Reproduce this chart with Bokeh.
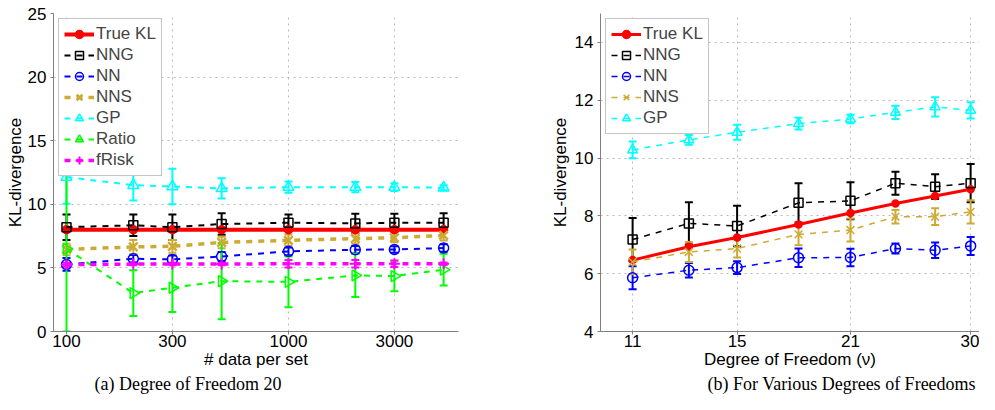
import numpy as np
from bokeh.plotting import figure
from bokeh.models import (ColumnDataSource, Whisker, Legend, LegendItem, FixedTicker,
                          PrintfTickFormatter, Range1d, Title, TeeHead)
from bokeh.layouts import row
from bokeh.embed import file_html
from bokeh.resources import INLINE

# ---------------- data: panel (a) ----------------
n_data = [100, 200, 300, 500, 1000, 2000, 3000, 5000]
true_kl_a = [8.0, 8.0, 8.0, 8.0, 8.0, 8.0, 8.0, 8.0]
nng_a = [8.2, 8.35, 8.2, 8.45, 8.55, 8.5, 8.55, 8.55]
nng_a_err = [1.0, 0.85, 1.0, 0.85, 0.65, 0.75, 0.7, 0.75]
nn_a = [5.27, 5.72, 5.67, 5.9, 6.3, 6.43, 6.45, 6.56]
nn_a_err = [0.5, 0.3, 0.3, 0.35, 0.3, 0.3, 0.25, 0.3]
nns_a = [6.45, 6.65, 6.7, 7.0, 7.17, 7.3, 7.37, 7.55]
nns_a_err = [0.45, 0.55, 0.5, 0.45, 0.45, 0.4, 0.35, 0.4]
gp_a = [12.15, 11.5, 11.4, 11.25, 11.35, 11.35, 11.35, 11.3]
gp_a_err = [2.1, 1.2, 1.4, 0.8, 0.45, 0.4, 0.3, 0.2]
ratio_a = [6.5, 3.02, 3.44, 3.96, 3.9, 4.41, 4.36, 4.86]
ratio_a_err = [6.5, 1.8, 1.9, 3.0, 2.0, 1.7, 1.2, 1.25]
frisk_a = [5.25, 5.3, 5.3, 5.3, 5.33, 5.33, 5.33, 5.33]
frisk_a_err = [0.15, 0.1, 0.1, 0.1, 0.3, 0.3, 0.25, 0.1]
ticks_a = [100, 300, 1000, 3000]
yticks_a = [0, 5, 10, 15, 20, 25]

# ---------------- data: panel (b) ----------------
dof = [11, 13, 15, 18, 21, 24, 27, 30]
true_kl_b = [6.47, 6.93, 7.25, 7.7, 8.1, 8.43, 8.69, 8.92]
nng_b = [7.18, 7.74, 7.65, 8.45, 8.52, 9.13, 9.01, 9.13]
nng_b_err = [0.75, 0.73, 0.7, 0.68, 0.64, 0.4, 0.43, 0.66]
nn_b = [5.86, 6.12, 6.21, 6.55, 6.56, 6.87, 6.81, 6.96]
nn_b_err = [0.4, 0.25, 0.22, 0.32, 0.3, 0.17, 0.27, 0.31]
nns_b = [6.41, 6.75, 6.87, 7.36, 7.51, 7.97, 7.97, 8.14]
nns_b_err = [0.43, 0.35, 0.31, 0.38, 0.4, 0.23, 0.29, 0.4]
gp_b = [10.28, 10.63, 10.89, 11.19, 11.35, 11.58, 11.77, 11.65]
gp_b_err = [0.29, 0.17, 0.26, 0.2, 0.15, 0.23, 0.33, 0.28]
ticks_b = [11, 15, 21, 30]
yticks_b = [4, 6, 8, 10, 12, 14]

FONT = "Liberation Sans"
SERIF = "Liberation Serif"
GOLD = "#CCAA33"


def add_series(p, x, y, err, color, marker, dash, lw, size, angle=0.0, fill=None, mlw=1.5):
    renderers = []
    if err is not None:
        src = ColumnDataSource(dict(x=x, upper=[a + b for a, b in zip(y, err)],
                                    lower=[a - b for a, b in zip(y, err)]))
        w = Whisker(base="x", upper="upper", lower="lower", source=src, dimension="height",
                    line_color=color, line_width=2,
                    upper_head=TeeHead(size=8, line_color=color, line_width=2),
                    lower_head=TeeHead(size=8, line_color=color, line_width=2))
        p.add_layout(w)
    src = ColumnDataSource(dict(x=x, y=y))
    ln = p.line("x", "y", source=src, line_color=color, line_width=lw, line_dash=dash)
    renderers.append(ln)
    sc = p.scatter("x", "y", source=src, marker=marker, size=size, angle=angle,
                   line_color=color, line_width=mlw,
                   fill_color=fill if fill is not None else None)
    renderers.append(sc)
    return renderers


def style(p, xticks, yticks, ylabel_standoff):
    p.outline_line_color = None
    p.background_fill_color = "white"
    p.border_fill_color = "white"
    for ax in (p.xaxis[0], p.yaxis[0]):
        ax.axis_line_color = "#808080"
        ax.major_tick_line_color = "#808080"
        ax.major_tick_out = 3
        ax.major_tick_in = 0
        ax.minor_tick_line_color = None
        ax.major_label_text_font = FONT
        ax.major_label_text_font_size = "17px"
        ax.major_label_text_color = "black"
        ax.axis_label_text_font = FONT
        ax.axis_label_text_font_size = "17px"
        ax.axis_label_text_font_style = "normal"
        ax.axis_label_text_color = "black"
    p.xaxis[0].ticker = FixedTicker(ticks=xticks)
    p.yaxis[0].ticker = FixedTicker(ticks=yticks)
    p.xaxis[0].formatter = PrintfTickFormatter(format="%d")
    p.yaxis[0].formatter = PrintfTickFormatter(format="%d")
    p.xaxis[0].major_label_standoff = 0
    p.yaxis[0].major_label_standoff = 4
    p.xaxis[0].axis_label_standoff = 0
    p.yaxis[0].axis_label_standoff = ylabel_standoff
    for g in (p.xgrid[0], p.ygrid[0]):
        g.grid_line_color = "#b8b8b8"
        g.grid_line_dash = "dotted"
        g.grid_line_width = 1


def make_legend(items):
    lg = Legend(items=items, location="top_left", margin=5, padding=5, spacing=1,
                label_text_font=FONT, label_text_font_size="17px",
                label_height=20, glyph_height=20, glyph_width=30, label_standoff=2,
                border_line_color="#8a8a8a", border_line_width=1,
                background_fill_color="white", background_fill_alpha=1.0)
    return lg


# ---------------- panel (a) ----------------
pa = figure(width=540, height=394, x_axis_type="log", x_range=Range1d(87.4, 5834),
            y_range=Range1d(0, 25), output_backend="svg", toolbar_location=None,
            min_border_left=53, min_border_right=82, min_border_top=13, min_border_bottom=63)
pa.xaxis.axis_label = "# data per set"
pa.yaxis.axis_label = "KL-divergence"
style(pa, ticks_a, yticks_a, 0)

r_true = add_series(pa, n_data, true_kl_a, None, "#FF0000", "circle", "solid", 4, 8, fill="#FF0000")
r_nng = add_series(pa, n_data, nng_a, nng_a_err, "black", "square", "dashed", 2, 9)
r_nn = add_series(pa, n_data, nn_a, nn_a_err, "#0000FF", "circle", "dashed", 2, 10)
r_nns = add_series(pa, n_data, nns_a, nns_a_err, GOLD, "x", "dashed", 3.5, 12, mlw=2.5)
r_gp = add_series(pa, n_data, gp_a, gp_a_err, "#00FFFF", "triangle", "dashed", 2, 11)
r_ratio = add_series(pa, n_data, ratio_a, ratio_a_err, "#00FF00", "triangle", "dashed", 2, 11,
                     angle=-np.pi / 2)
r_frisk = add_series(pa, n_data, frisk_a, frisk_a_err, "#FF00FF", "cross", "dashed", 3.5, 11, mlw=2)

pa.add_layout(make_legend([
    LegendItem(label="True KL", renderers=r_true),
    LegendItem(label="NNG", renderers=r_nng),
    LegendItem(label="NN", renderers=r_nn),
    LegendItem(label="NNS", renderers=r_nns),
    LegendItem(label="GP", renderers=r_gp),
    LegendItem(label="Ratio", renderers=r_ratio),
    LegendItem(label="fRisk", renderers=r_frisk),
]))
pa.add_layout(Title(text="(a) Degree of Freedom 20", align="left", offset=41, standoff=0,
                    text_font=SERIF, text_font_size="18px", text_font_style="normal",
                    text_color="black"), "below")

# ---------------- panel (b) ----------------
pb = figure(width=439, height=394, x_axis_type="log", x_range=Range1d(10.0, 30.8),
            y_range=Range1d(4, 15), output_backend="svg", toolbar_location=None,
            min_border_left=60, min_border_right=0, min_border_top=13, min_border_bottom=63)
pb.xaxis.axis_label = "Degree of Freedom (\u03bd)"
pb.yaxis.axis_label = "KL-divergence"
style(pb, ticks_b, yticks_b, 2)

s_true = add_series(pb, dof, true_kl_b, None, "#FF0000", "circle", "solid", 3, 7, fill="#FF0000")
s_nng = add_series(pb, dof, nng_b, nng_b_err, "black", "square", "dashed", 1.5, 9)
s_nn = add_series(pb, dof, nn_b, nn_b_err, "#0000FF", "circle", "dashed", 1.5, 10)
s_nns = add_series(pb, dof, nns_b, nns_b_err, GOLD, "x", "dashed", 1.5, 11)
s_gp = add_series(pb, dof, gp_b, gp_b_err, "#00FFFF", "triangle", "dashed", 1.5, 10)

pb.add_layout(make_legend([
    LegendItem(label="True KL", renderers=s_true),
    LegendItem(label="NNG", renderers=s_nng),
    LegendItem(label="NN", renderers=s_nn),
    LegendItem(label="NNS", renderers=s_nns),
    LegendItem(label="GP", renderers=s_gp),
]))
pb.add_layout(Title(text="(b) For Various Degrees of Freedoms", align="left", offset=107, standoff=0,
                    text_font=SERIF, text_font_size="18px", text_font_style="normal",
                    text_color="black"), "below")

layout = row(pa, pb)
open("out.html", "w").write(file_html(layout, INLINE))
